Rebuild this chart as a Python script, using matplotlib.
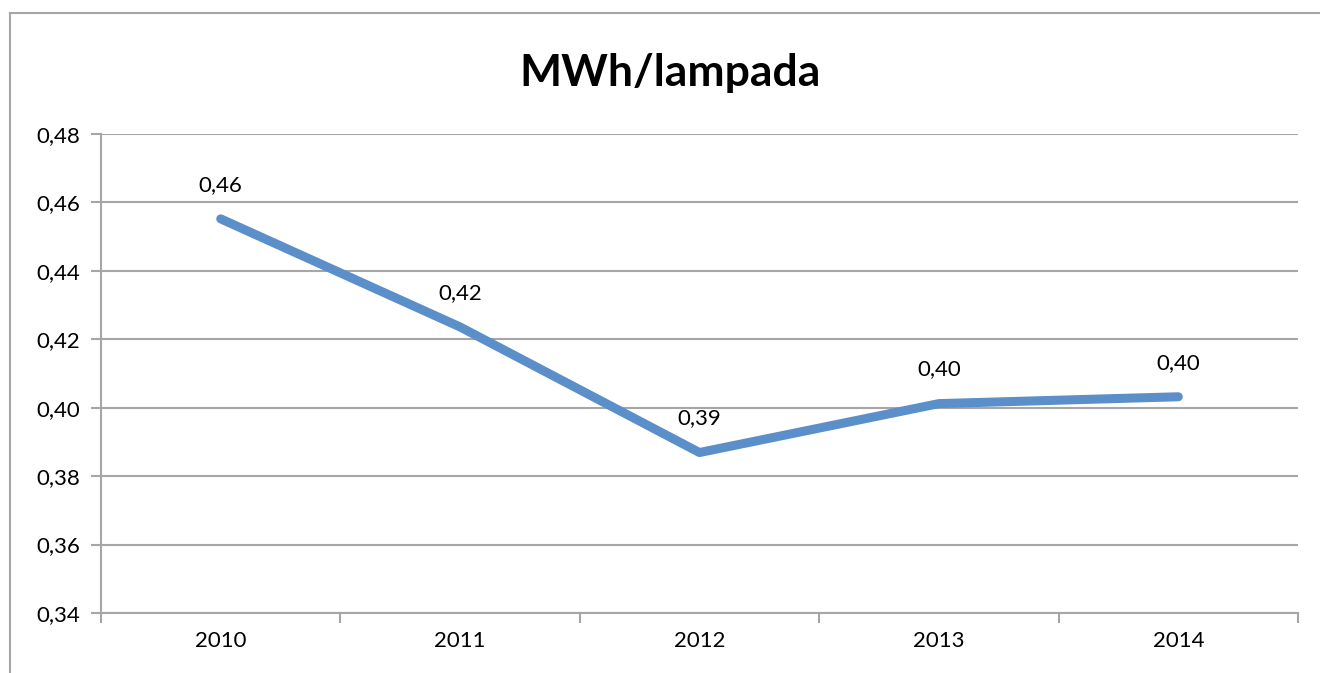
import matplotlib.pyplot as plt
from matplotlib.lines import Line2D
from matplotlib.ticker import FuncFormatter, FixedLocator
import numpy as np

plt.rcParams['font.family'] = ['Lato', 'DejaVu Sans']

years = ['2010', '2011', '2012', '2013', '2014']
mwh_lamp = [0.4552, 0.4236, 0.3869, 0.4012, 0.4032]
labels = ['0,46', '0,42', '0,39', '0,40', '0,40']

grid_col = '#a6a6a6'
line_col = '#5b8fc9'

fig = plt.figure(figsize=(13.2, 6.73), dpi=100)
ax = fig.add_axes([101 / 1320, 1 - 613 / 673, (1298 - 101) / 1320, (613 - 134) / 673])

x = np.arange(len(years))
ax.plot(x, mwh_lamp, color=line_col, lw=6.5, solid_capstyle='round', zorder=3)
for xi, yi, lab in zip(x, mwh_lamp, labels):
    ax.annotate(lab, (xi, yi), xytext=(0, 24.5), textcoords='offset points',
                ha='center', va='center', fontsize=16, color='black')

ax.set_xlim(-0.5, len(years) - 0.5)
ax.set_ylim(0.34, 0.48)
ax.set_yticks(np.arange(0.34, 0.481, 0.02))
ax.yaxis.set_major_formatter(FuncFormatter(lambda v, p: f'{v:.2f}'.replace('.', ',')))
ax.yaxis.grid(True, color=grid_col, lw=1.5)
ax.set_axisbelow(True)

# category labels at centers, tick marks on boundaries
ax.xaxis.set_major_locator(FixedLocator(np.arange(-0.5, len(years), 1.0)))
ax.set_xticklabels([])
ax.xaxis.set_minor_locator(FixedLocator(x))
ax.set_xticklabels(years, minor=True)
ax.tick_params(axis='x', which='minor', length=0, pad=13, labelsize=16)
ax.tick_params(axis='x', which='major', length=7, width=1.5, color=grid_col, direction='out')
ax.tick_params(axis='y', length=7, width=1.5, color=grid_col, labelsize=16, pad=8)

for s in ['top', 'right']:
    ax.spines[s].set_visible(False)
for s in ['left', 'bottom']:
    ax.spines[s].set_color(grid_col)
    ax.spines[s].set_linewidth(1.5)

fig.text(670 / 1320, 1 - 73 / 673, 'MWh/lampada', ha='center', va='center',
         fontsize=32, fontweight='bold')

# chart area border (left and top visible)
fig.add_artist(Line2D([10 / 1320, 10 / 1320], [0, 1 - 13 / 673], color=grid_col, lw=1.5))
fig.add_artist(Line2D([10 / 1320, 1], [1 - 13 / 673, 1 - 13 / 673], color=grid_col, lw=1.5))

fig.savefig('out.png', dpi=100)
